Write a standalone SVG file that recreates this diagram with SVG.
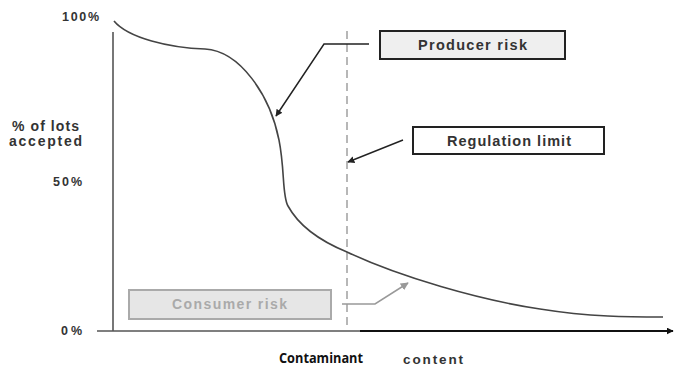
<svg xmlns="http://www.w3.org/2000/svg" width="674" height="366" viewBox="0 0 674 366">
<style>
.lbl{font-family:"Liberation Sans",Arial,sans-serif;font-weight:bold;fill:#333;}
.box{stroke:#222;stroke-width:2;}
.curve{fill:none;stroke:#444;stroke-width:1.6;}
</style>
<defs>
<marker id="ah" viewBox="0 0 10 10" refX="9" refY="5" markerWidth="7" markerHeight="7" orient="auto" markerUnits="userSpaceOnUse"><path d="M0,0 L10,5 L0,10 z" fill="#222"/></marker>
<marker id="ahg" viewBox="0 0 10 10" refX="9" refY="5" markerWidth="8" markerHeight="8" orient="auto" markerUnits="userSpaceOnUse"><path d="M0,0 L10,5 L0,10 z" fill="#999"/></marker>
<marker id="ahx" viewBox="0 0 10 10" refX="9" refY="5" markerWidth="7" markerHeight="7" orient="auto" markerUnits="userSpaceOnUse"><path d="M0,0 L10,5 L0,10 z" fill="#111"/></marker>
</defs>
<rect width="674" height="366" fill="#fff"/>
<g id="axes">
<line x1="113" y1="32" x2="113" y2="331" stroke="#555" stroke-width="1.6"/>
<line x1="97" y1="331" x2="362" y2="331" stroke="#555" stroke-width="1.6"/>
<line x1="360" y1="331" x2="673" y2="331" stroke="#111" stroke-width="1.8" marker-end="url(#ahx)"/>
<line x1="347" y1="31" x2="347" y2="330" stroke="#999" stroke-width="1.4" stroke-dasharray="8,5"/>
</g>
<g id="oc-curve">
<path class="curve" d="M114,21 C128,38 170,48 205,49 C240,51 270,95 279,140 C285,170 282,196 288,206 C300,228 325,243 347,252 C400,277 480,300 540,309 C590,317 630,317 663,317"/>
</g>
<g id="axis-labels">
<text class="lbl" x="62" y="21" font-size="12.5" textLength="37" lengthAdjust="spacing">100%</text>
<text class="lbl" x="12" y="131" font-size="14" textLength="67" lengthAdjust="spacing">% of lots</text>
<text class="lbl" x="9" y="146" font-size="14" textLength="73" lengthAdjust="spacing">accepted</text>
<text class="lbl" x="53" y="186" font-size="12.5" textLength="29" lengthAdjust="spacing">50%</text>
<text class="lbl" x="61" y="335" font-size="12.5" textLength="21" lengthAdjust="spacing">0%</text>
<text x="279" y="363" font-family="'Open Sans','Liberation Sans',sans-serif" font-weight="bold" font-size="14" fill="#111" textLength="84" lengthAdjust="spacingAndGlyphs">Contaminant</text>
<text class="lbl" x="403" y="364" font-size="13.5" textLength="60" lengthAdjust="spacing">content</text>
</g>
<g id="producer-risk">
<rect class="box" x="380" y="31" width="185" height="28" fill="#efefef"/>
<text class="lbl" x="418" y="50" font-size="14.5" textLength="109" lengthAdjust="spacing">Producer risk</text>
</g>
<g id="regulation-limit">
<rect class="box" x="413" y="127" width="191" height="27" fill="#fff"/>
<text class="lbl" x="447" y="146" font-size="14.5" textLength="124" lengthAdjust="spacing">Regulation limit</text>
</g>
<g id="consumer-risk">
<rect x="129" y="290" width="202" height="29" fill="#e6e6e6" stroke="#aaa" stroke-width="2"/>
<text x="172" y="309" font-family="'Liberation Sans',Arial,sans-serif" font-weight="bold" font-size="14" fill="#aaa" textLength="115" lengthAdjust="spacing">Consumer risk</text>
</g>
<g id="connectors">
<polyline points="369,44 324,44 276,116" fill="none" stroke="#222" stroke-width="1.5" marker-end="url(#ah)"/>
<line x1="403" y1="140" x2="348" y2="162" stroke="#222" stroke-width="1.5" marker-end="url(#ah)"/>
<polyline points="342,304 375,304 408,283" fill="none" stroke="#999" stroke-width="1.5" marker-end="url(#ahg)"/>
</g>
</svg>
